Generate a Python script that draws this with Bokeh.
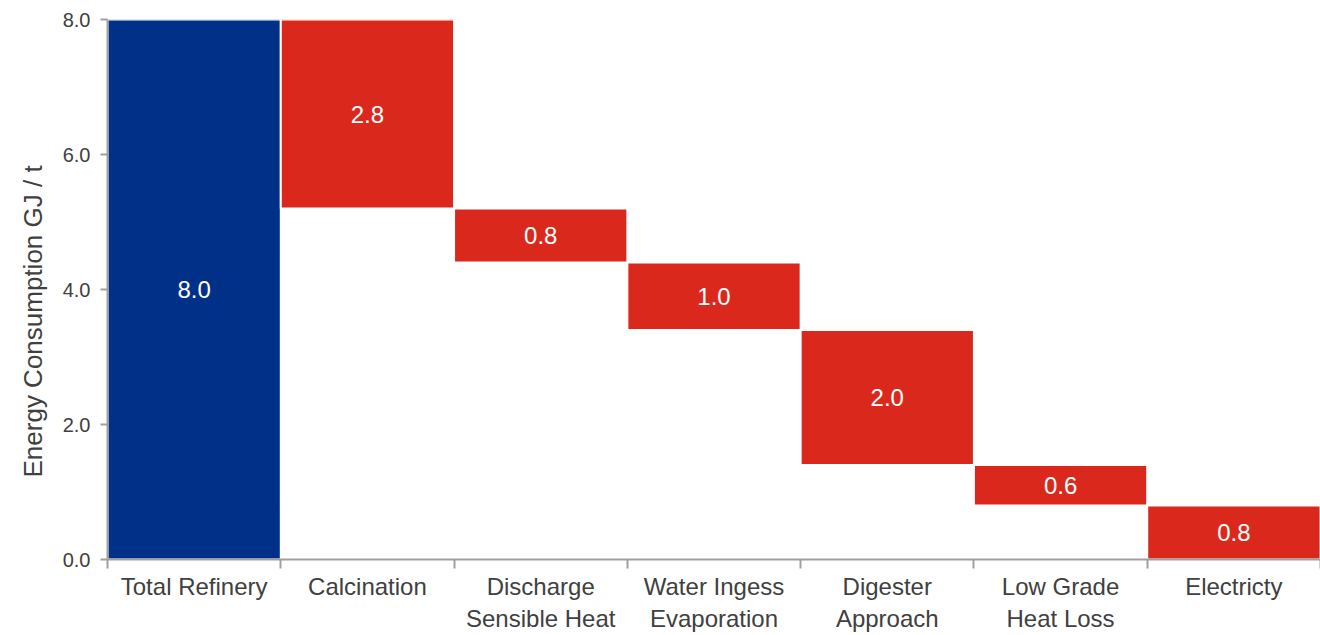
from bokeh.plotting import figure
from bokeh.models import ColumnDataSource, FixedTicker, Range1d, NumeralTickFormatter, Title
from bokeh.core.properties import value
from bokeh.embed import file_html
from bokeh.resources import INLINE

categories = ["Total Refinery", "Calcination", "Discharge\nSensible Heat", "Water Ingess\nEvaporation",
              "Digester\nApproach", "Low Grade\nHeat Loss", "Electricty"]
values = [8.0, 2.8, 0.8, 1.0, 2.0, 0.6, 0.8]
y_ticks = [0.0, 2.0, 4.0, 6.0, 8.0]
y_title = "Energy Consumption GJ / t"

BLUE = "#003087"
RED = "#DA291C"
TXT = "#404040"
FONT = "Liberation Sans"

lefts, rights, bottoms, tops, colors, mids, labels = [], [], [], [], [], [], []
running = values[0]
for i, v in enumerate(values):
    if i == 0:
        b, t, c = 0.0, v, BLUE
    else:
        t = running
        b = running - v
        running = b
        c = RED
    lefts.append(i)
    rights.append(i + 1)
    bottoms.append(b)
    tops.append(t)
    colors.append(c)
    mids.append((b + t) / 2)
    labels.append(f"{v:.1f}")

src = ColumnDataSource(dict(left=lefts, right=rights, bottom=bottoms, top=tops, color=colors,
                            xc=[l + 0.5 for l in lefts], mid=mids, label=labels))

p = figure(width=1320, height=635, output_backend="svg", toolbar_location=None,
           x_range=Range1d(0, 7), y_range=Range1d(0, 8),
           min_border_left=107, min_border_right=0, min_border_top=19, min_border_bottom=76)
p.outline_line_color = None
p.xgrid.grid_line_color = None
p.ygrid.grid_line_color = None
p.background_fill_color = "white"
p.border_fill_color = "white"

p.quad(left="left", right="right", bottom="bottom", top="top", fill_color="color",
       line_color="white", line_width=2, source=src)
p.text(x="xc", y="mid", text="label", source=src, text_color="white",
       text_font=value(FONT), text_font_size="24px", text_align="center", text_baseline="middle")

# x axis
xa = p.xaxis[0]
xa.ticker = FixedTicker(ticks=[i + 0.5 for i in range(len(categories))],
                        minor_ticks=list(range(len(categories) + 1)))
xa.major_label_overrides = {i + 0.5: c for i, c in enumerate(categories)}
xa.major_tick_line_color = None
xa.minor_tick_out = 9
xa.minor_tick_in = 0
xa.minor_tick_line_color = "#A0A0A0"
xa.minor_tick_line_width = 2
xa.axis_line_color = "#A0A0A0"
xa.axis_line_width = 2
xa.major_label_text_font = FONT
xa.major_label_text_font_size = "24px"
xa.major_label_text_color = TXT
xa.major_label_standoff = 4

# y axis
ya = p.yaxis[0]
ya.ticker = FixedTicker(ticks=y_ticks)
ya.formatter = NumeralTickFormatter(format="0.0")
ya.minor_tick_line_color = None
ya.major_tick_out = 7
ya.major_tick_in = 0
ya.major_tick_line_color = "#A0A0A0"
ya.major_tick_line_width = 2
ya.axis_line_color = "#A0A0A0"
ya.axis_line_width = 2
ya.major_label_text_font = FONT
ya.major_label_text_font_size = "20px"
ya.major_label_text_color = TXT
ya.major_label_standoff = 10

t = Title(text=y_title, align="left", offset=82, standoff=24,
          text_font=FONT, text_font_style="normal", text_font_size="26px", text_color=TXT)
p.add_layout(t, "left")

open("out.html", "w").write(file_html(p, INLINE))
